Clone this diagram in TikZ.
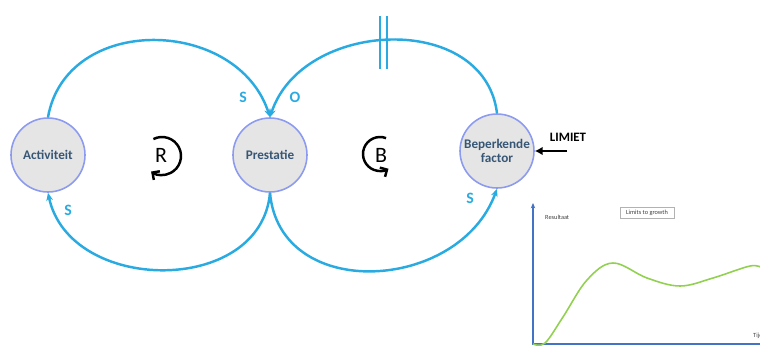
\documentclass[tikz,border=0pt]{standalone}
\usepackage{fontspec}
\setmainfont{Carlito}
\usepackage{tikz}
\usetikzlibrary{arrows.meta}
\usepackage{xcolor}

\definecolor{linkblue}{RGB}{41,171,226}
\definecolor{ringblue}{RGB}{140,155,240}
\definecolor{nodegrey}{RGB}{229,229,229}
\definecolor{textblue}{RGB}{55,86,117}
\definecolor{axisblue}{RGB}{68,114,196}
\definecolor{curvegreen}{RGB}{146,208,80}

\tikzset{
    var/.style={draw=ringblue, line width=0.9pt, circle, fill=nodegrey, minimum size=14.8mm, inner sep=0pt, align=center, text=textblue, font=\bfseries\fontsize{7.5}{8}\selectfont},
    link/.style={draw=linkblue, line width=1.4pt, -{Stealth[length=4.5pt, width=3.8pt]}},
    sign/.style={text=linkblue, font=\bfseries\fontsize{9}{9}\selectfont},
    loopsym/.style={font=\fontsize{12.5}{12.5}\selectfont},
    loopline/.style={line width=1.4pt, -{Straight Barb[length=3pt, width=6pt]}},
    tiny/.style={text=black!75, font=\fontsize{3.6}{4}\selectfont, inner sep=0.5pt}
}

\begin{document}
\begin{tikzpicture}[x=0.2mm, y=0.2mm]
    \useasboundingbox (0, 0) rectangle (760, 345);
    \clip (0, 0) rectangle (760, 345);

    \node[var] (act) at (48, 190) {Activiteit};
    \node[var] (pre) at (270, 190) {Prestatie};
    \node[var] (bep) at (497, 194) {Beperkende\\factor};

    \draw[link] (act.north) to[out=80, in=108, looseness=1.22] (pre.north);
    \draw[link] (bep.north) to[out=97, in=72, looseness=1.16] (pre.north);
    \draw[link] (pre.south) to[out=-95, in=-78, looseness=1.2] (act.south);
    \draw[link] (pre.south) to[out=-85, in=-110, looseness=1.24] (bep.south);

    % delay
    \draw[linkblue, line width=1.1pt] (380, 276) -- (380, 329);
    \draw[linkblue, line width=1.1pt] (387, 276) -- (387, 329);

    \node[sign] (s1) at (243, 248) {S};
    \node[sign] (o1) at (295, 248) {O};
    \node[sign] (s2) at (68, 135) {S};
    \node[sign] (s3) at (470, 147) {S};

    \node[loopsym] (r) at (161, 190) {R};
    \draw[loopline] ([shift={(117:19)}]162, 189) arc[start angle=117, end angle=-125, radius=19];
    \node[loopsym] (b) at (381, 190) {B};
    \draw[loopline] ([shift={(69:17)}]380, 191) arc[start angle=69, end angle=300, radius=17];

    \node[font=\bfseries\fontsize{7.3}{8}\selectfont] (limiet) at (568, 208) {LIMIET};
    \coordinate (lim) at (567, 194);
    \draw[line width=1.7pt, -{Latex[length=4.5pt, width=5pt]}] (lim) -- (bep);

    % limits to growth
    \draw[axisblue, line width=0.6pt, -{Stealth[length=3pt, width=2.5pt]}] (533, 0) -- (533, 142);
    \draw[axisblue, line width=0.6pt] (533, 1) -- (770, 1);
    \node[tiny, anchor=west] (res) at (544, 128) {Resultaat};
    \node[tiny, draw=black!30, fill=white, minimum width=10.8mm, minimum height=2.2mm] (ltg) at (647, 132) {Limits to growth};
    \node[tiny, anchor=west] (tijd) at (752, 9) {Tijd};
    \draw[curvegreen, line width=0.9pt] plot[smooth, tension=0.6] coordinates {(533, 1) (545, 2) (563, 28) (587, 65) (613, 82) (647, 67) (680, 59) (713, 67) (750, 79) (762, 77)};
\end{tikzpicture}
\end{document}
